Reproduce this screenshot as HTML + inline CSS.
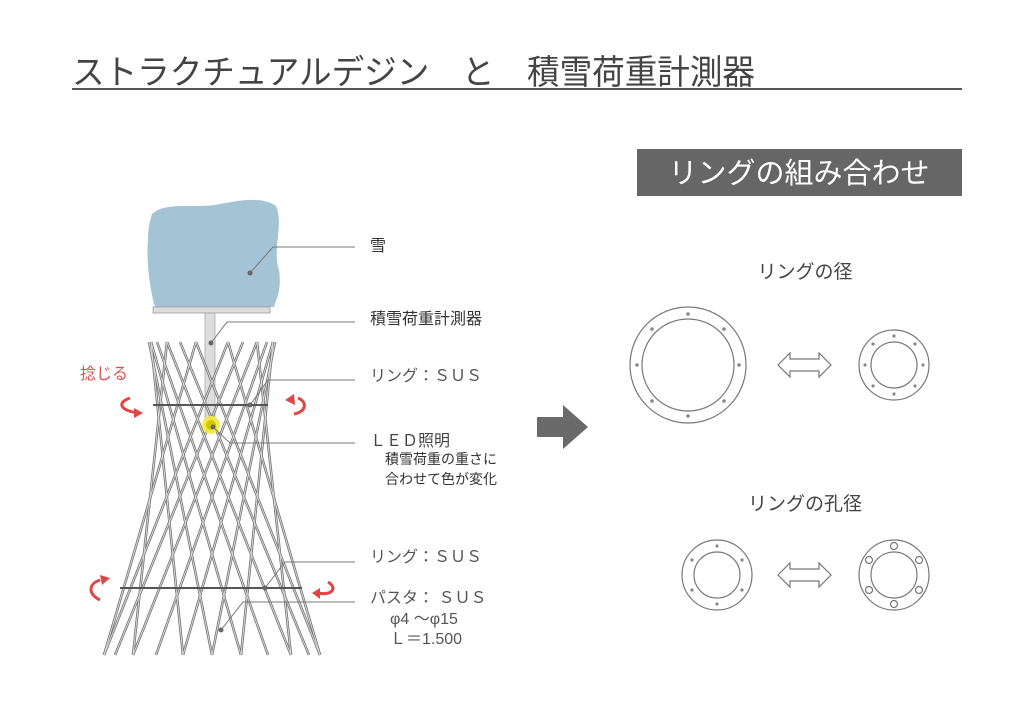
<!DOCTYPE html>
<html><head><meta charset="utf-8"><style>
html,body{margin:0;padding:0;background:#fff;}
svg{display:block;}
text{font-family:"Liberation Sans","Noto Sans CJK JP",sans-serif;}
</style></head><body>
<svg width="1024" height="723" viewBox="0 0 1024 723" xmlns="http://www.w3.org/2000/svg">
<defs>
<g id="st">
<line x1="320" y1="655" x2="196" y2="342"/><line x1="320" y1="655" x2="228" y2="342"/>
<line x1="291" y1="655" x2="167" y2="342"/><line x1="291" y1="655" x2="257" y2="342"/>
<line x1="241" y1="655" x2="151" y2="342"/><line x1="241" y1="655" x2="273" y2="342"/>
<line x1="183" y1="655" x2="151" y2="342"/><line x1="183" y1="655" x2="273" y2="342"/>
<line x1="133" y1="655" x2="167" y2="342"/><line x1="133" y1="655" x2="257" y2="342"/>
<line x1="104" y1="655" x2="196" y2="342"/><line x1="104" y1="655" x2="228" y2="342"/>
<line x1="309" y1="655" x2="180" y2="342"/><line x1="115" y1="655" x2="243" y2="342"/>
<line x1="268" y1="655" x2="157" y2="342"/><line x1="156" y1="655" x2="267" y2="342"/>
<line x1="212" y1="655" x2="149" y2="342"/><line x1="212" y1="655" x2="275" y2="342"/>
</g>
</defs>
<rect width="1024" height="723" fill="#fff"/>
<text x="72" y="84" font-size="34" fill="#444" textLength="683" lengthAdjust="spacingAndGlyphs">ストラクチュアルデジン　と　積雪荷重計測器</text>
<rect x="72" y="88" width="890" height="2" fill="#555"/>

<rect x="637" y="149" width="325" height="47" fill="#666"/>
<text x="799" y="183" font-size="29" fill="#fff" text-anchor="middle">リングの組み合わせ</text>

<path d="M152,214 C165,202 190,208 215,205 C240,200 262,196 276,206 C284,225 272,250 279,270 C282,290 276,300 274,307 L155,307 C150,290 146,260 148,240 C148,228 150,220 152,214 Z" fill="#a4c3d5"/>
<rect x="153" y="307" width="117" height="6" fill="#ddd" stroke="#999" stroke-width="0.8"/>
<rect x="205" y="313" width="10" height="108" fill="#ddd" stroke="#aaa" stroke-width="0.8"/>

<use href="#st" stroke="#777" stroke-width="2.6" fill="none"/>
<use href="#st" stroke="#ddd" stroke-width="0.9" fill="none"/>
<line x1="153" y1="405" x2="268" y2="405" stroke="#555" stroke-width="2"/>
<line x1="120" y1="588" x2="302" y2="588" stroke="#555" stroke-width="2"/>

<circle cx="211" cy="425" r="9" fill="#f3ec3a" opacity="0.9"/>
<circle cx="211" cy="425" r="5" fill="#d8c400"/>

<g stroke="#777" stroke-width="1" fill="none">
<polyline points="250,273 273,247 355,247"/>
<polyline points="211,343 227,322 355,322"/>
<polyline points="250,405 268,380 355,380"/>
<polyline points="213,427 230,443 355,443"/>
<polyline points="265,588 285,562 355,562"/>
<polyline points="221,630 243,602 355,602"/>
</g>
<g fill="#666">
<circle cx="250" cy="273" r="2.5"/><circle cx="211" cy="343" r="2.5"/><circle cx="250" cy="405" r="2.5"/>
<circle cx="213" cy="427" r="2.5"/><circle cx="265" cy="588" r="2.5"/><circle cx="221" cy="630" r="2.5"/>
</g>

<g font-size="16" fill="#333">
<text x="370" y="251">雪</text>
<text x="370" y="324">積雪荷重計測器</text>
<text x="370" y="381" fill="#555">リング：ＳＵＳ</text>
<text x="370" y="446" fill="#444">ＬＥＤ照明</text>
<text x="385" y="464" font-size="14">積雪荷重の重さに</text>
<text x="385" y="484" font-size="14">合わせて色が変化</text>
<text x="370" y="562" fill="#555">リング：ＳＵＳ</text>
<text x="370" y="603" fill="#555">パスタ： ＳＵＳ</text>
<text x="390" y="624" fill="#555">φ4 ～φ15</text>
<text x="390" y="644" fill="#555">Ｌ＝1.500</text>
</g>
<text x="80" y="379" font-size="16" fill="#e05050">捻じる</text>

<g fill="none" stroke="#e24545" stroke-width="3">
<path d="M130,398 C118,402 118,410 138,413"/>
<path d="M298,398 C308,402 306,412 294,414"/>
<path d="M100,580 C88,584 88,594 100,600"/>
<path d="M328,582 C338,588 332,596 318,593"/>
</g>
<g fill="#e24545">
<polygon points="143,413 134,408 134,418"/>
<polygon points="285,400 294,394 295,405"/>
<polygon points="110,578 100,575 102,585"/>
<polygon points="312,593 320,588 320,599"/>
</g>

<polygon points="537,417 563,417 563,405 588,427 563,449 563,437 537,437" fill="#6a6a6a"/>

<g font-size="19" fill="#444" text-anchor="middle">
<text x="805" y="278">リングの径</text>
<text x="805" y="510">リングの孔径</text>
</g>

<g stroke="#777" stroke-width="1.2" fill="none">
<circle cx="688" cy="365" r="58"/><circle cx="688" cy="365" r="46"/>
<circle cx="894" cy="365" r="35"/><circle cx="894" cy="365" r="23"/>
<circle cx="717" cy="575" r="35"/><circle cx="717" cy="575" r="23"/>
<circle cx="894" cy="575" r="35"/><circle cx="894" cy="575" r="23"/>
<g fill="#fff"><circle cx="894" cy="546" r="3.5"/><circle cx="894" cy="604" r="3.5"/>
<circle cx="869" cy="560" r="3.5"/><circle cx="919" cy="560" r="3.5"/>
<circle cx="869" cy="590" r="3.5"/><circle cx="919" cy="590" r="3.5"/></g>
<polygon points="778,365 790,353 790,359 819,359 819,353 831,365 819,377 819,371 790,371 790,377"/>
<polygon points="778,575 790,563 790,569 819,569 819,563 831,575 819,587 819,581 790,581 790,587"/>
</g>
<g fill="#888">
<circle cx="688" cy="314" r="1.8"/><circle cx="688" cy="416" r="1.8"/><circle cx="637" cy="365" r="1.8"/><circle cx="739" cy="365" r="1.8"/>
<circle cx="652" cy="329" r="1.8"/><circle cx="724" cy="329" r="1.8"/><circle cx="652" cy="401" r="1.8"/><circle cx="724" cy="401" r="1.8"/>
<circle cx="894" cy="336" r="1.6"/><circle cx="894" cy="394" r="1.6"/><circle cx="865" cy="365" r="1.6"/><circle cx="923" cy="365" r="1.6"/>
<circle cx="873" cy="344" r="1.6"/><circle cx="915" cy="344" r="1.6"/><circle cx="873" cy="386" r="1.6"/><circle cx="915" cy="386" r="1.6"/>
<circle cx="717" cy="546" r="1.6"/><circle cx="717" cy="604" r="1.6"/><circle cx="692" cy="560" r="1.6"/><circle cx="742" cy="560" r="1.6"/>
<circle cx="692" cy="590" r="1.6"/><circle cx="742" cy="590" r="1.6"/>
</g>
</svg>
</body></html>
